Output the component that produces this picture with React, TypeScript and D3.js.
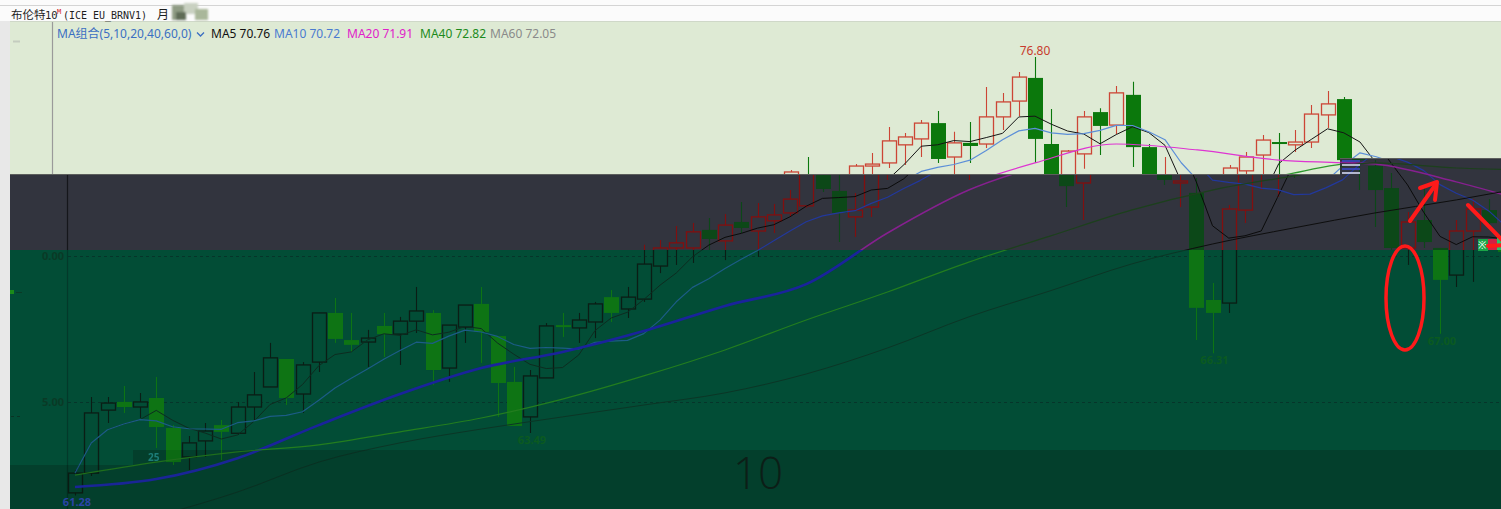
import * as d3 from "d3";

const W = 1501;
const H = 509;
const SANS = '"Noto Sans", "Noto Sans CJK SC", sans-serif';
const MONO = '"DejaVu Sans Mono", monospace';

// monthly bars (index 0 = first visible bar)
const opens = [
  61.37, 62.07, 64.3, 64.59, 64.41, 64.73, 63.67, 62.64, 63.21, 63.77,
  63.48, 64.41, 65.12, 66.11, 64.87, 66.0, 67.74, 66.78, 66.71, 67.28,
  66.99, 67.45, 67.74, 65.79, 67.24, 68.06, 66.92, 65.3, 64.06, 65.44,
  67.31, 67.21, 67.42, 68.3, 67.88, 68.23, 69.4, 70.04, 70.04, 70.68,
  70.29, 70.96, 70.64, 71.0, 71.28, 71.53, 72.62, 72.06, 71.14, 71.49,
  72.94, 73.05, 73.69, 73.9, 74.46, 73.26, 73.76, 73.72, 74.68, 75.24,
  76.06, 73.72, 72.34, 73.37, 74.85, 74.39, 75.46, 73.61, 72.34, 71.99,
  68.2, 68.09, 71.38, 72.77, 73.33, 73.79, 73.69, 73.79, 74.75, 75.31,
  72.94, 72.16, 70.04, 71.03, 70.04, 69.08, 70.64, 71.38, 70.5,
];
const highs = [
  62.18, 64.76, 64.76, 65.15, 64.91, 65.47, 63.77, 63.38, 63.84, 63.95,
  64.59, 65.65, 66.68, 66.11, 66.0, 67.74, 68.27, 67.74, 67.14, 67.74,
  67.6, 68.66, 67.84, 67.31, 68.02, 68.66, 66.92, 65.83, 65.72, 67.38,
  67.74, 67.74, 68.13, 68.55, 68.66, 70.15, 70.32, 70.82, 70.92, 71.1,
  71.24, 71.67, 71.63, 71.6, 72.09, 72.8, 73.26, 72.62, 71.99, 73.01,
  73.4, 74.32, 74.11, 74.57, 74.89, 74.15, 74.5, 75.74, 75.53, 76.27,
  76.8, 74.96, 73.51, 74.89, 74.99, 75.77, 75.92, 73.72, 73.26, 72.52,
  68.8, 71.56, 72.98, 73.44, 74.04, 74.11, 74.22, 75.1, 75.6, 75.38,
  73.15, 72.69, 71.31, 72.27, 70.04, 71.03, 71.77, 71.77, 70.6,
];
const lows = [
  61.28, 61.97, 63.84, 64.2, 64.02, 62.96, 62.36, 62.18, 62.64, 62.53,
  63.42, 63.95, 65.12, 64.48, 64.2, 65.65, 66.68, 66.36, 65.83, 66.18,
  65.9, 67.03, 65.19, 65.3, 66.68, 65.97, 64.06, 63.74, 63.49, 65.44,
  66.89, 66.68, 66.85, 67.42, 67.56, 68.13, 69.15, 69.44, 69.51, 69.97,
  69.61, 70.57, 69.72, 70.57, 71.14, 71.46, 72.02, 70.25, 70.43, 71.14,
  72.45, 72.87, 72.98, 73.26, 73.05, 72.45, 73.05, 73.58, 74.22, 74.71,
  73.05, 71.49, 71.03, 72.84, 73.33, 74.07, 72.91, 72.27, 71.49, 66.78,
  66.31, 67.74, 70.92, 72.09, 71.84, 72.52, 73.44, 73.58, 74.29, 72.09,
  70.78, 69.97, 69.44, 70.04, 67.0, 68.66, 68.84, 70.68, 69.8,
];
const closes = [
  62.07, 64.2, 64.55, 64.41, 64.59, 63.7, 62.46, 63.14, 63.56, 63.53,
  64.41, 64.84, 66.15, 64.73, 65.9, 67.74, 66.82, 66.61, 66.85, 66.99,
  67.45, 67.81, 65.72, 67.31, 68.02, 67.07, 65.26, 63.74, 65.51, 67.28,
  67.24, 67.49, 68.06, 67.74, 68.3, 69.47, 70.04, 70.22, 70.61, 70.36,
  70.85, 70.75, 71.14, 71.21, 71.77, 72.73, 72.13, 71.28, 71.38, 72.94,
  73.01, 73.83, 73.97, 74.46, 73.19, 73.76, 73.65, 74.68, 75.21, 76.09,
  73.9, 72.23, 73.47, 74.68, 74.36, 75.53, 73.61, 72.45, 72.41, 67.92,
  67.74, 71.42, 72.87, 73.26, 73.86, 73.72, 73.79, 74.78, 75.14, 73.15,
  72.09, 70.04, 70.96, 70.25, 68.91, 70.64, 71.42, 70.92, 69.9,
];

const maSampleIdx = [0, 5, 10, 15, 20, 25, 30, 35, 40, 45, 50, 55, 60, 65, 70, 75, 80, 85, 88];
const ma20Read = [61.58, 61.86, 62.6, 63.77, 64.87, 65.79, 66.36, 67.1, 67.99, 68.76, 70.57, 72.09, 73.05, 73.72, 73.51, 73.15, 73.01, 72.38, 71.91];
const ma40Read = [62.0, 62.46, 62.82, 63.07, 63.53, 64.02, 64.69, 65.51, 66.43, 67.49, 68.48, 69.54, 70.46, 71.38, 72.09, 72.59, 73.05, 72.87, 72.82];
const ma60Read = [59.88, 60.55, 61.4, 62.46, 63.14, 63.63, 64.06, 64.48, 64.91, 65.58, 66.5, 67.6, 68.52, 69.47, 70.18, 70.75, 71.28, 71.74, 72.05];

const maNames = ["MA5", "MA10", "MA20", "MA40", "MA60"];
const maLast = [70.76, 70.72, 71.91, 72.82, 72.05];

const gridValues = [69.76, 64.59];
const gridLabels = ["0.00", "5.00"];

// bars carrying an extreme-price label
const markIdx = [60, 28, 70, 84, 0];
const markSide = ["high", "low", "low", "low", "low"];

const x = d3.scaleLinear().domain([0, 87]).range([75, 1488.75]);
const y = d3.scaleLinear().domain([63.49, 76.8]).range([433, 57]);

const sma = (n: number) =>
  closes.map((_, i) => d3.mean(closes.slice(Math.max(0, i - n + 1), i + 1)) as number);

const lineIdx = d3.line<number>().x((_, i) => x(i)).y((v) => y(v));
const lineSmp = d3
  .line<number>()
  .x((_, k) => x(maSampleIdx[k]))
  .y((v) => y(v))
  .curve(d3.curveMonotoneX);

const maPaths = [
  lineIdx(sma(5)),
  lineIdx(sma(10)),
  lineSmp(ma20Read),
  lineSmp(ma40Read),
  lineSmp(ma60Read),
];

// which band of the screenshot a screen y falls into
const bandOf = (yy: number) => (yy < 174 ? "light" : yy < 250 ? "dark" : yy < 450 ? "green" : "bottom");

type Pal = {
  name: string;
  bg: string;
  up: string;
  down: string;
  axis: string;
  grid: string;
  gridText: string;
  label: string;
  ma: string[];
  maW: number[];
};

const light: Pal = {
  name: "light",
  bg: "#deead4",
  up: "#cc4535",
  down: "#0b780c",
  axis: "#9a9a9a",
  grid: "none",
  gridText: "none",
  label: "#c83c2c",
  ma: ["#151515", "#5c8fd8", "#de34d2", "#2f9a2f", "#8c8c8c"],
  maW: [1, 1.2, 1.2, 1.2, 1],
};
const darkGray: Pal = {
  name: "dark",
  bg: "#32343e",
  up: "#820f0f",
  down: "#0c4818",
  axis: "#15161b",
  grid: "#26282f",
  gridText: "#26282f",
  label: "#6b1111",
  ma: ["#0b0b0b", "#22389c", "#86208f", "#1c401c", "#0e0e0e"],
  maW: [1, 1.2, 1.5, 1.2, 1],
};
const greenBand: Pal = {
  name: "green",
  bg: "#024d36",
  up: "#0b1d15",
  down: "#0e7414",
  axis: "#03392a",
  grid: "#06352a",
  gridText: "#0a3a26",
  label: "#0b5a20",
  ma: ["#0d2c20", "#1c5c86", "#1a239c", "#237d1f", "#0b3626"],
  maW: [1, 1.2, 2.6, 1.2, 1],
};
const bottomBand: Pal = {
  name: "bottom",
  bg: "#033f2c",
  up: "#0a1a12",
  down: "#0c6a13",
  axis: "#022f20",
  grid: "#05301f",
  gridText: "#08301f",
  label: "#2a44a6",
  ma: ["#0b2519", "#1a4f7a", "#1a2597", "#1f6e1c", "#0a3022"],
  maW: [1, 1.2, 2.6, 1.2, 1],
};

function Candles({ p }: { p: Pal }) {
  return (
    <g>
      {opens.map((o, i) => {
        const c = closes[i];
        const up = c >= o;
        const col = up ? p.up : p.down;
        const cx = Math.round(x(i));
        const top = y(Math.max(o, c));
        const bot = y(Math.min(o, c));
        return (
          <g key={i}>
            <line x1={cx + 0.5} x2={cx + 0.5} y1={y(highs[i])} y2={y(lows[i])} stroke={col} strokeWidth={1.1} />
            {up ? (
              <rect x={cx - 6.5} y={top} width={14} height={Math.max(bot - top, 1.5)} fill={p.bg} stroke={col} strokeWidth={1.3} />
            ) : (
              <rect x={cx - 7} y={top} width={15} height={Math.max(bot - top, 2)} fill={col} />
            )}
          </g>
        );
      })}
    </g>
  );
}

function Layer({ p, dx, clip }: { p: Pal; dx: number; clip: string }) {
  return (
    <g clipPath={`url(#${clip})`}>
      <rect x={0} y={0} width={W} height={H} fill={p.bg} />
      <g transform={`translate(${dx},0)`}>
        <line x1={67.5} x2={67.5} y1={0} y2={H} stroke={p.axis} strokeWidth={1.2} />
        {gridValues.map((v, k) => (
          <g key={k}>
            <line x1={68} x2={W + 30} y1={Math.round(y(v)) + 0.5} y2={Math.round(y(v)) + 0.5} stroke={p.grid} strokeDasharray="3 3" />
            {bandOf(y(v)) === p.name && (
              <text x={64} y={y(v) + 4} textAnchor="end" fontSize={11} fontWeight="bold" fill={p.gridText}>
                {gridLabels[k]}
              </text>
            )}
          </g>
        ))}
        <Candles p={p} />
        {maPaths.map((d, k) => (
          <path key={k} d={d ?? ""} fill="none" stroke={p.ma[k]} strokeWidth={p.maW[k]} strokeLinejoin="round" />
        ))}
        {markIdx.map((i, k) => {
          const hi = markSide[k] === "high";
          const ty = hi ? y(highs[i]) - 2 : y(lows[i]) + 11;
          if (bandOf(ty - 4) !== p.name) return null;
          return hi ? (
            <text key={k} x={x(i)} y={ty} textAnchor="middle" fontSize={12} fill={p.label}>
              {highs[i].toFixed(2)}
            </text>
          ) : (
            <text key={k} x={x(i) + 2} y={ty} textAnchor="middle" fontSize={11} fontWeight="bold" fill={p.label}>
              {lows[i].toFixed(2)}
            </text>
          );
        })}
      </g>
    </g>
  );
}

const legendColors = ["#111111", "#4a7bd0", "#e021c9", "#1c8a1c", "#8a8a8a"];
const legendX = [211, 274, 347, 420, 490];

export default function App() {
  return (
    <svg
      width={W}
      height={H}
      viewBox={`0 0 ${W} ${H}`}
      style={{ position: "fixed", left: 0, top: 0, display: "block" }}
      fontFamily={SANS}
    >
      <defs>
        <clipPath id="c-light">
          <path d="M10,21H1501V158H1340V174H10Z" />
        </clipPath>
        <clipPath id="c-dark">
          <path d="M10,174H1340V158H1501V250H10Z" />
        </clipPath>
        <clipPath id="c-green">
          <path d="M10,250H1501V450H133V465H10Z" />
        </clipPath>
        <clipPath id="c-bottom">
          <path d="M10,465H133V450H1501V509H10Z" />
        </clipPath>
        <filter id="blur">
          <feGaussianBlur stdDeviation="1.3" />
        </filter>
      </defs>

      <rect width={W} height={H} fill="#fbfbfb" />
      <line x1={0} x2={W} y1={5.5} y2={5.5} stroke="#d4d4d4" />
      <rect x={0} y={21} width={10} height={H - 21} fill="#e8e8e8" />

      <Layer p={light} dx={-15} clip="c-light" />
      <Layer p={darkGray} dx={0} clip="c-dark" />
      <Layer p={greenBand} dx={0} clip="c-green" />
      <Layer p={bottomBand} dx={0} clip="c-bottom" />

      <path d="M10,174.5H1340M1340,158.5H1501" stroke="#5c5e5c" fill="none" />
      <line x1={10} x2={W} y1={21.5} y2={21.5} stroke="#cfd8c8" />

      {/* small marks on the left edge */}
      <line x1={13} x2={20} y1={41.5} y2={41.5} stroke="#c4ccbf" strokeWidth={2} />
      <rect x={10} y={290} width={4} height={4} fill="#1a8a1a" />
      <line x1={16} x2={22} y1={292.5} y2={292.5} stroke="#0a3a26" />
      <line x1={11} x2={22} y1={416.5} y2={416.5} stroke="#0a3324" strokeDasharray="3 3" />

      {/* title */}
      <text x={11} y={19} fontSize={11.5} fill="#1e1e1e" fontFamily='"Noto Sans CJK SC"'>布伦特</text>
      <text x={45} y={19} fontSize={10.5} fill="#1e1e1e" fontFamily={MONO}>10</text>
      <text x={57} y={14} fontSize={7} fill="#d02020" fontFamily={MONO}>M</text>
      <text x={63} y={19} fontSize={10} fill="#1e1e1e" fontFamily={MONO} textLength={84}>
        (ICE EU_BRNV1)
      </text>
      <text x={157} y={19} fontSize={12} fill="#1e1e1e" fontFamily='"Noto Sans CJK SC"'>月</text>
      <g filter="url(#blur)">
        <rect x={172} y={5} width={14} height={15} fill="#8f9c84" />
        <rect x={184} y={3} width={14} height={11} fill="#c9d1c1" />
        <rect x={195} y={9} width={13} height={11} fill="#a9b79a" />
        <rect x={176} y={12} width={10} height={8} fill="#5e6c56" />
      </g>

      {/* legend */}
      <text x={57} y={38} fontSize={12} fill="#3b6fc2">MA组合(5,10,20,40,60,0)</text>
      <path d="M197,32.5l3.5,3.5l3.5,-3.5" stroke="#3b6fc2" fill="none" strokeWidth={1.3} />
      {maNames.map((n, k) => (
        <text key={n} x={legendX[k]} y={38} fontSize={12} fill={legendColors[k]}>
          {n} {maLast[k].toFixed(2)}
        </text>
      ))}

      {/* screenshot artefacts */}
      <text x={148} y={461} fontSize={10} fontWeight="bold" fill="#35b9c2" opacity={0.5}>25</text>
      {[161, 165, 169, 173].map((yy, k) => (
        <line key={yy} x1={1342} x2={1360} y1={yy} y2={yy} stroke={k % 2 ? "#dfe3ff" : "#3a4bd0"} strokeWidth={1.5} />
      ))}
      <rect x={1478} y={239} width={10} height={12} fill="#1aa548" />
      <text x={1478} y={249} fontSize={10} fill="#ffffff">※</text>
      <rect x={1488} y={239} width={9} height={11} fill="#cf2245" />
      <rect x={1497} y={238} width={4} height={12} fill="#22c468" />

      {/* big number in the bottom strip */}
      <text x={758} y={489} textAnchor="middle" fontSize={44} fill="#0c1e17" fontFamily='"Open Sans", sans-serif' fontWeight={300}>
        10
      </text>

      {/* red hand annotations */}
      <ellipse cx={1405} cy={298} rx={19} ry={52} fill="none" stroke="#ff1a1a" strokeWidth={3.5} />
      <g stroke="#ff1a1a" strokeWidth={4} fill="none" strokeLinecap="round" strokeLinejoin="round">
        <line x1={1410} y1={221} x2={1436} y2={184} />
        <polyline points="1420,188 1437,182 1435,200" />
        <line x1={1468} y1={205} x2={1503} y2={241} />
        <polyline points="1488,246 1505,245" />
      </g>
    </svg>
  );
}
